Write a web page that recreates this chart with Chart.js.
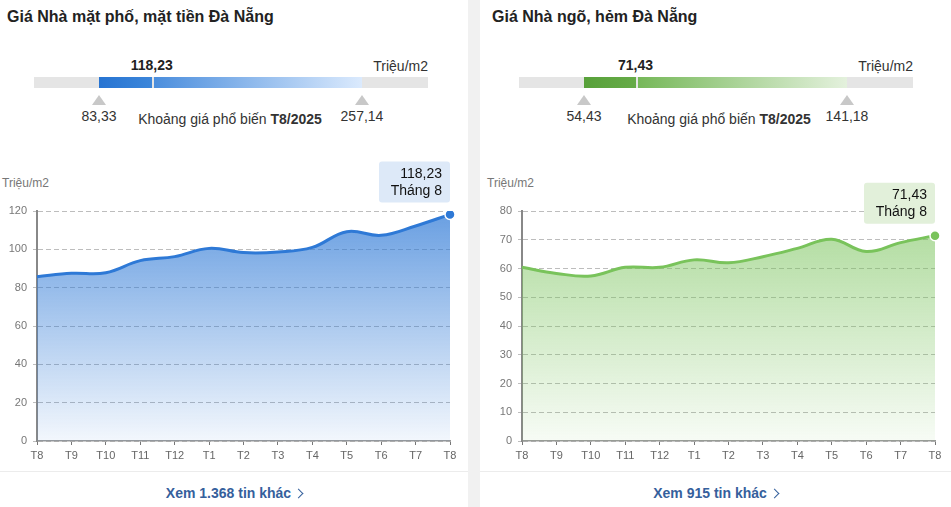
<!DOCTYPE html>
<html>
<head>
<meta charset="utf-8">
<script src="https://cdn.jsdelivr.net/npm/chart.js@4.4.0/dist/chart.umd.min.js"></script>
<style>
  body { margin: 0; width: 951px; height: 507px; background: #f1f1f1; font-family: "Liberation Sans", Arial, sans-serif; overflow: hidden; position: relative; }
  .panel { position: absolute; top: 0; height: 507px; background: #fff; }
  .title { position: absolute; top: 8px; left: 7px; font-size: 16px; font-weight: bold; color: #222; }
  .track { position: absolute; top: 77px; left: 34px; width: 394px; height: 11px; background: #e5e5e5; }
  .span { position: absolute; top: 0; left: 65px; width: 263px; height: 11px; }
  .solid { position: absolute; top: 0; left: 0; height: 11px; }
  .grad { position: absolute; top: 0; height: 11px; right: 0; }
  .cur { position: absolute; top: -20px; transform: translateX(-50%); font-size: 14px; font-weight: bold; color: #222; }
  .unit { position: absolute; top: 58px; right: 40px; font-size: 14px; color: #333; }
  .tri { position: absolute; top: 18px; width: 0; height: 0; border-left: 7px solid transparent; border-right: 7px solid transparent; border-bottom: 10px solid #c8c8c8; transform: translateX(-50%); }
  .lim { position: absolute; top: 31px; transform: translateX(-50%); font-size: 14px; color: #333; }
  .note { position: absolute; top: 111px; font-size: 14px; color: #333; }
  .ytitle { position: absolute; top: 176px; left: 2px; font-size: 12px; color: #777; }
  .box { position: absolute; left: 0; top: 150px; height: 320px; }
  .sep { position: absolute; left: 0; right: 0; top: 471px; height: 1px; background: #ececec; }
  .more { position: absolute; top: 485px; left: 0; right: 0; text-align: center; font-size: 14px; font-weight: bold; color: #35609c; }
  .chev { display: inline-block; width: 6px; height: 6px; border-right: 1.5px solid #35609c; border-top: 1.5px solid #35609c; transform: rotate(45deg); margin-left: 4px; position: relative; top: -1px; }
</style>
</head>
<body>
<div class="panel" id="p0" style="left:0;width:468px"></div>
<div class="panel" id="p1" style="left:480px;width:471px"></div>
<script>
// Months along the x axis (T8/2024 .. T8/2025)
const months = ['T8', 'T9', 'T10', 'T11', 'T12', 'T1', 'T2', 'T3', 'T4', 'T5', 'T6', 'T7', 'T8'];

// Average price, Triệu/m2
const frontPrices = [85.7, 87.5, 87.8, 94.1, 96.2, 100.5, 98.3, 98.6, 101.0, 109.2, 107.3, 112.2, 118.23];
const alleyPrices = [60.4, 58.3, 57.4, 60.4, 60.4, 63.0, 62.0, 64.1, 67.0, 70.2, 65.9, 69.0, 71.43];

// Common price range for T8/2025
const rangeLow = [83.33, 54.43];
const rangeHigh = [257.14, 141.18];
const currentPrice = [118.23, 71.43];

// y axis
const yMax = [120, 80];
const yStep = [20, 10];

const titles = ['Giá Nhà mặt phố, mặt tiền Đà Nẵng', 'Giá Nhà ngõ, hẻm Đà Nẵng'];
const moreCounts = ['1.368', '915'];

const themes = [
    { line: '#2e79d6', top: 'rgba(46,121,214,0.72)', bottom: 'rgba(46,121,214,0.06)', tip: '#dde9f8',
      solid: 'linear-gradient(90deg,#2774d2,#3c86da)', grad: 'linear-gradient(90deg,#4b8edd,#dbeafd)' },
    { line: '#79c35b', top: 'rgba(121,195,91,0.62)', bottom: 'rgba(121,195,91,0.06)', tip: '#e2f0da',
      solid: 'linear-gradient(90deg,#58a13a,#66ab48)', grad: 'linear-gradient(90deg,#76b859,#e4f1dd)' }
];

function fmt(v) {
    return v.toFixed(2).replace('.', ',');
}

function buildPanel(i, values) {
    const p = document.getElementById('p' + i);
    const t = themes[i];
    const inset = i === 0 ? 0 : 5;
    const pos = (currentPrice[i] - rangeLow[i]) / (rangeHigh[i] - rangeLow[i]) * 100;
    p.innerHTML =
        '<div style="position:absolute;left:' + inset + 'px;top:0;width:468px;height:507px">' +
        '<div class="title">' + titles[i] + '</div>' +
        '<div class="unit">Triệu/m2</div>' +
        '<div class="track"><div class="span">' +
            '<div class="solid" style="width:' + pos + '%;background:' + t.solid + '"></div>' +
            '<div class="grad" style="left:calc(' + pos + '% + 2px);background:' + t.grad + '"></div>' +
            '<div class="cur" style="left:' + pos + '%">' + fmt(currentPrice[i]) + '</div>' +
            '<div class="tri" style="left:0"></div><div class="tri" style="left:100%"></div>' +
            '<div class="lim" style="left:0">' + fmt(rangeLow[i]) + '</div>' +
            '<div class="lim" style="left:100%">' + fmt(rangeHigh[i]) + '</div>' +
        '</div></div>' +
        '<div class="note" style="width:468px;text-align:center">Khoảng giá phổ biến <b>T8/2025</b></div>' +
        '<div class="ytitle">Triệu/m2</div>' +
        '<div class="box" style="width:468px"><canvas id="c' + i + '"></canvas></div>' +
        '</div>' +
        '<div class="sep"></div>' +
        '<div class="more">Xem ' + moreCounts[i] + ' tin khác<span class="chev"></span></div>';
    // note text sits a bit left of centre in the reference
    p.querySelector('.note').style.left = (i === 0 ? -4 : 0) + 'px';

    // Tooltip-like label on the last point
    const lastLabel = {
        id: 'lastLabel',
        afterDatasetsDraw: function (chart) {
            const ctx = chart.ctx;
            const pts = chart.getDatasetMeta(0).data;
            const pt = pts[pts.length - 1];
            const w = 71, h = 41;
            const right = pt.x, bottom = pt.y - 12;
            ctx.save();
            ctx.fillStyle = t.tip;
            ctx.beginPath();
            ctx.roundRect(right - w, bottom - h, w, h, 3);
            ctx.fill();
            ctx.fillStyle = '#111';
            ctx.font = '14px "Liberation Sans", Arial, sans-serif';
            ctx.textAlign = 'right';
            ctx.textBaseline = 'middle';
            ctx.fillText(fmt(values[values.length - 1]), right - 8, bottom - 28);
            ctx.fillText('Tháng 8', right - 8, bottom - 11);
            ctx.restore();
        }
    };

    const ctx = document.getElementById('c' + i).getContext('2d');
    return new Chart(ctx, {
        type: 'line',
        data: {
            labels: months,
            datasets: [{
                data: values,
                borderColor: t.line,
                borderWidth: 3,
                tension: 0.4,
                fill: 'origin',
                backgroundColor: function (context) {
                    const area = context.chart.chartArea;
                    if (!area) return t.top;
                    const g = context.chart.ctx.createLinearGradient(0, area.top, 0, area.bottom);
                    g.addColorStop(0, t.top);
                    g.addColorStop(1, t.bottom);
                    return g;
                },
                pointRadius: values.map((v, k) => k === values.length - 1 ? 5 : 0),
                pointBackgroundColor: t.line,
                pointBorderColor: '#fff',
                pointBorderWidth: 1.5
            }]
        },
        options: {
            responsive: true,
            maintainAspectRatio: false,
            animation: false,
            layout: { padding: { top: 61, right: 18, left: 0, bottom: 0 } },
            plugins: { legend: { display: false }, tooltip: { enabled: false } },
            scales: {
                x: {
                    afterFit: function (s) { s.height = 29; },
                    grid: { display: true, drawOnChartArea: false, tickLength: 4, tickColor: '#777' },
                    border: { color: '#999', width: 1.5 },
                    ticks: { color: '#666', font: { size: 11, family: '"Liberation Sans", Arial' }, padding: 4, maxRotation: 0, autoSkip: false }
                },
                y: {
                    min: 0,
                    max: yMax[i],
                    afterFit: function (s) { s.width = 37; },
                    grid: { color: '#bdbdbd', tickLength: 4 },
                    border: { color: '#888', width: 2, dash: [5, 3] },
                    ticks: { stepSize: yStep[i], color: '#777', font: { size: 11, family: '"Liberation Sans", Arial' }, padding: 6 }
                }
            }
        },
        plugins: [lastLabel]
    });
}

buildPanel(0, frontPrices);
buildPanel(1, alleyPrices);
</script>
</body>
</html>
